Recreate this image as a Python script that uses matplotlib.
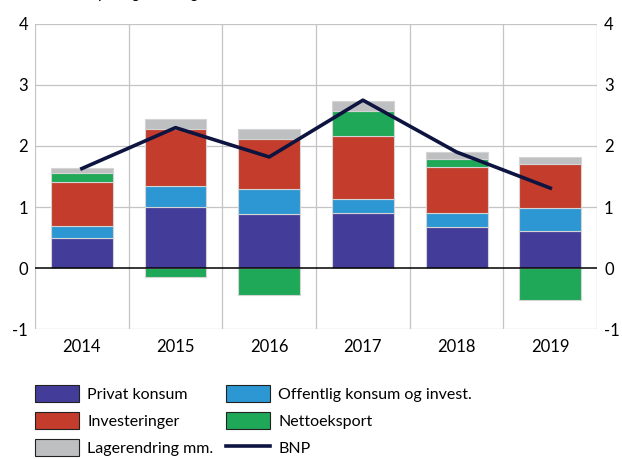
import numpy as np
import matplotlib
matplotlib.use("Agg")
import matplotlib.pyplot as plt
from matplotlib.patches import Patch
from matplotlib.lines import Line2D

plt.rcParams['font.family'] = ['Lato', 'DejaVu Sans']
plt.rcParams['axes.unicode_minus'] = False

years = ['2014', '2015', '2016', '2017', '2018', '2019']
privat = [0.50, 1.00, 0.88, 0.90, 0.68, 0.61]
offentlig = [0.19, 0.35, 0.41, 0.23, 0.22, 0.38]
invest = [0.72, 0.93, 0.82, 1.04, 0.75, 0.71]
netto = [0.15, -0.15, -0.44, 0.40, 0.13, -0.52]
lager = [0.08, 0.16, 0.16, 0.17, 0.12, 0.12]
bnp = [1.63, 2.30, 1.82, 2.75, 1.90, 1.31]

series = [
    ('Privat konsum', privat, '#433d99'),
    ('Offentlig konsum og invest.', offentlig, '#2c97d2'),
    ('Investeringer', invest, '#c43c2b'),
    ('Nettoeksport', netto, '#1fa857'),
    ('Lagerendring mm.', lager, '#bdbfc0'),
]

fig = plt.figure(figsize=(6.22, 4.59), dpi=100)
ax = fig.add_axes([0.0563, 0.283, 0.9037, 0.665])

x = np.arange(len(years))
pos = np.zeros(len(years))
neg = np.zeros(len(years))
for name, vals, col in series:
    vals = np.array(vals)
    bottom = np.where(vals >= 0, pos, neg)
    ax.bar(x, vals, bottom=bottom, width=0.66, color=col,
           edgecolor='#d4d4d4', linewidth=0.8, zorder=3)
    pos = pos + np.where(vals >= 0, vals, 0)
    neg = neg + np.where(vals < 0, vals, 0)

ax.plot(x, bnp, color='#0e1440', linewidth=2.6, zorder=4)

ax.set_xlim(-0.5, 5.5)
ax.set_ylim(-1, 4)
ax.set_yticks([-1, 0, 1, 2, 3, 4])
ax.set_xticks(x)
ax.set_xticklabels(years)
for xb in np.arange(-0.5, 6, 1):
    ax.axvline(xb, color='#c4c4c4', linewidth=0.9, zorder=1)
for yv in [-1, 1, 2, 3, 4]:
    ax.axhline(yv, color='#c4c4c4', linewidth=0.9, zorder=1)
ax.axhline(0, color='black', linewidth=1.1, zorder=5)
for s in ax.spines.values():
    s.set_visible(False)
ax.tick_params(axis='both', length=0, labelsize=12)
ax.tick_params(axis='x', pad=7)
ax.tick_params(axis='y', labelright=True, right=False, pad=5)

# title cut off at the top of the image
fig.text(0.074, 1.005, 'Prosentpoeng, endring', fontsize=11, va='baseline', ha='left')

handles = [
    Patch(facecolor='#433d99', edgecolor='#222222', linewidth=0.8),
    Patch(facecolor='#c43c2b', edgecolor='#222222', linewidth=0.8),
    Patch(facecolor='#bdbfc0', edgecolor='#222222', linewidth=0.8),
    Patch(facecolor='#2c97d2', edgecolor='#222222', linewidth=0.8),
    Patch(facecolor='#1fa857', edgecolor='#222222', linewidth=0.8),
    Line2D([0], [0], color='#0e1440', linewidth=2.6),
]
labels = ['Privat konsum', 'Investeringer', 'Lagerendring mm.',
          'Offentlig konsum og invest.', 'Nettoeksport', 'BNP']
fig.legend(handles, labels, ncol=2, loc='upper left',
           bbox_to_anchor=(0.044, 0.179), frameon=False, fontsize=11.5,
           handlelength=2.75, handleheight=1.25, handletextpad=0.5,
           labelspacing=0.65, columnspacing=0.8, borderpad=0)

fig.savefig('out.png', dpi=100)
